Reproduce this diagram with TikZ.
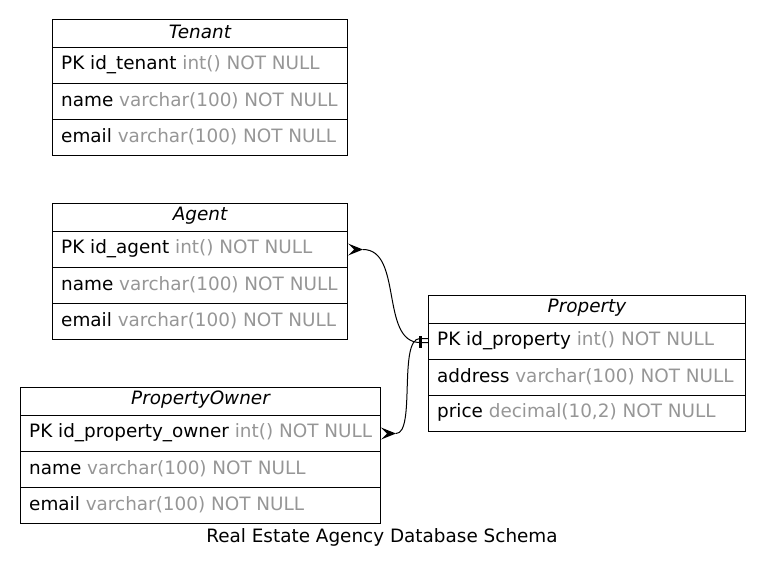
\documentclass[tikz,border=0pt]{standalone}
\usepackage{fontspec}
\setmainfont{DejaVu Sans}
\definecolor{typegray}{RGB}{150,150,150}
\tikzset{
  cell/.style={draw, line width=1pt, anchor=north west, inner sep=0pt},
  title/.style={cell, minimum height=28pt},
  field/.style={cell, minimum height=36pt},
  label/.style={anchor=west, inner sep=0pt, font=\fontsize{18.4}{22}\selectfont},
  caption/.style={inner sep=0pt, font=\fontsize{18.4}{22}\selectfont},
  heading/.style={inner sep=0pt, font=\fontsize{18.4}{22}\selectfont\itshape},
  link/.style={line width=1pt},
}
\newcommand{\ty}[1]{\textcolor{typegray}{#1}}
\begin{document}
\begin{tikzpicture}[x=1pt,y=-1pt]
\useasboundingbox (0,0) rectangle (765,573);

% Tenant
\node[title, minimum width=295pt] (tenant) at (52,19) {};
\node[heading] at ([yshift=1.5pt]tenant.center) {Tenant};
\node[field, minimum width=295pt] (tenantpk) at (52,47) {};
\node[label] at ([xshift=9pt,yshift=1pt]tenantpk.west) {PK id\_tenant \ty{int() NOT NULL}};
\node[field, minimum width=295pt] (tenantname) at (52,83) {};
\node[label] at ([xshift=9pt,yshift=1pt]tenantname.west) {name \ty{varchar(100) NOT NULL}};
\node[field, minimum width=295pt] (tenantemail) at (52,119) {};
\node[label] at ([xshift=9pt,yshift=1pt]tenantemail.west) {email \ty{varchar(100) NOT NULL}};

% Agent
\node[title, minimum width=295pt] (agent) at (52,203) {};
\node[heading] at ([yshift=1.5pt]agent.center) {Agent};
\node[field, minimum width=295pt] (agentpk) at (52,231) {};
\node[label] at ([xshift=9pt,yshift=1pt]agentpk.west) {PK id\_agent \ty{int() NOT NULL}};
\node[field, minimum width=295pt] (agentname) at (52,267) {};
\node[label] at ([xshift=9pt,yshift=1pt]agentname.west) {name \ty{varchar(100) NOT NULL}};
\node[field, minimum width=295pt] (agentemail) at (52,303) {};
\node[label] at ([xshift=9pt,yshift=1pt]agentemail.west) {email \ty{varchar(100) NOT NULL}};

% Property
\node[title, minimum width=317pt] (property) at (428,295) {};
\node[heading] at ([yshift=1.5pt]property.center) {Property};
\node[field, minimum width=317pt] (propertypk) at (428,323) {};
\node[label] at ([xshift=9pt,yshift=1pt]propertypk.west) {PK id\_property \ty{int() NOT NULL}};
\node[field, minimum width=317pt] (propertyaddr) at (428,359) {};
\node[label] at ([xshift=9pt,yshift=1pt]propertyaddr.west) {address \ty{varchar(100) NOT NULL}};
\node[field, minimum width=317pt] (propertyprice) at (428,395) {};
\node[label] at ([xshift=9pt,yshift=1pt]propertyprice.west) {price \ty{decimal(10,2) NOT NULL}};

% PropertyOwner
\node[title, minimum width=360pt] (owner) at (20,387) {};
\node[heading] at ([yshift=1.5pt]owner.center) {PropertyOwner};
\node[field, minimum width=360pt] (ownerpk) at (20,415) {};
\node[label] at ([xshift=9pt,yshift=1pt]ownerpk.west) {PK id\_property\_owner \ty{int() NOT NULL}};
\node[field, minimum width=360pt] (ownername) at (20,451) {};
\node[label] at ([xshift=9pt,yshift=1pt]ownername.west) {name \ty{varchar(100) NOT NULL}};
\node[field, minimum width=360pt] (owneremail) at (20,487) {};
\node[label] at ([xshift=9pt,yshift=1pt]owneremail.west) {email \ty{varchar(100) NOT NULL}};

% Caption
\node[caption] (schema) at (382,537) {Real Estate Agency Database Schema};

% Agent -> Property (many-to-one)
\coordinate (acrow) at ([xshift=15pt]agentpk.east);
\coordinate (ptee) at ([xshift=-8pt]propertypk.west);
\fill ([yshift=-6pt]agentpk.east) -- (acrow) -- ([yshift=6pt]agentpk.east) -- ([xshift=6pt]agentpk.east) -- cycle;
\draw[link] (acrow) .. controls +(40,0) and +(-40,0) .. ([yshift=-1pt]ptee) -- ([yshift=-1pt]propertypk.west);
\draw[line width=3pt] ([yshift=-6pt]ptee) -- ([yshift=6pt]ptee);

% PropertyOwner -> Property (many-to-one)
\coordinate (ocrow) at ([xshift=15pt]ownerpk.east);
\fill ([yshift=-6pt]ownerpk.east) -- (ocrow) -- ([yshift=6pt]ownerpk.east) -- ([xshift=6pt]ownerpk.east) -- cycle;
\draw[link] (ocrow) .. controls +(20,0) and +(-22,0) .. ([yshift=3pt]ptee) -- ([yshift=3pt]propertypk.west);
\end{tikzpicture}
\end{document}
